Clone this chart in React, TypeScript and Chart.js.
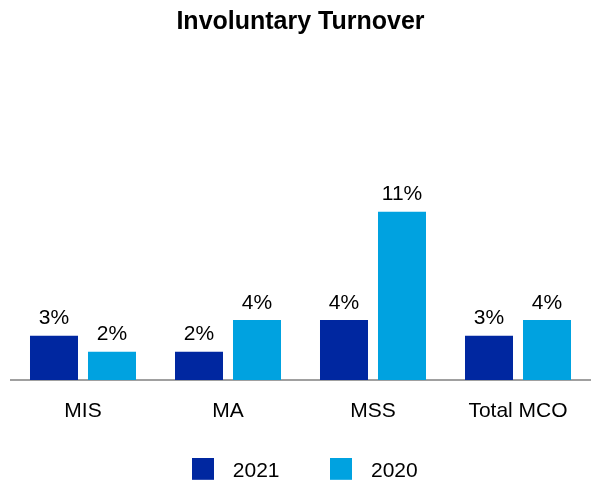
import { useEffect, useRef } from "react";
import { Chart, registerables } from "chart.js";

Chart.register(...registerables);

const categories = ["MIS", "MA", "MSS", "Total MCO"];
const seriesNames = ["2021", "2020"];
const values2021 = [2.95, 1.89, 4.0, 2.95];
const values2020 = [1.89, 4.0, 11.22, 4.0];
const titleText = "Involuntary Turnover";

const FAMILY = "'Liberation Sans', Arial, Helvetica, sans-serif";
const colors = ["#0027A0", "#00A2E0"];

function makeSwatch(color: string): HTMLCanvasElement {
  const c = document.createElement("canvas");
  c.width = 22;
  c.height = 26;
  const g = c.getContext("2d");
  if (g) {
    g.fillStyle = color;
    g.fillRect(0, 0, 22, 22);
  }
  return c;
}

const dataLabelPlugin = {
  id: "dataLabels",
  afterDatasetsDraw(chart: any) {
    const ctx = chart.ctx;
    ctx.save();
    ctx.font = `21px ${FAMILY}`;
    ctx.fillStyle = "#000";
    ctx.textAlign = "center";
    ctx.textBaseline = "alphabetic";
    chart.data.datasets.forEach((ds: any, di: number) => {
      const meta = chart.getDatasetMeta(di);
      if (meta.hidden) return;
      meta.data.forEach((bar: any, i: number) => {
        const v = ds.data[i] as number;
        ctx.fillText(`${Math.round(v)}%`, bar.x, bar.y - 11.5);
      });
    });
    ctx.restore();
  },
};

export default function App() {
  const ref = useRef<HTMLCanvasElement | null>(null);

  useEffect(() => {
    if (!ref.current) return;
    const swatches = colors.map(makeSwatch);
    const chart = new Chart(ref.current, {
      type: "bar",
      data: {
        labels: categories,
        datasets: [
          {
            label: seriesNames[0],
            data: values2021,
            backgroundColor: colors[0],
            categoryPercentage: 0.8,
            barPercentage: 0.8276,
          },
          {
            label: seriesNames[1],
            data: values2020,
            backgroundColor: colors[1],
            categoryPercentage: 0.8,
            barPercentage: 0.8276,
          },
        ],
      },
      options: {
        responsive: false,
        animation: false,
        events: [],
        layout: { padding: { left: 10.5, right: 9.5, top: 0, bottom: 8.7 } },
        scales: {
          x: {
            grid: { display: false, drawTicks: false },
            border: { display: true, color: "#A0A0A0", width: 2 },
            ticks: {
              color: "#000",
              font: { size: 21, family: FAMILY },
              padding: 18.2,
              maxRotation: 0,
              autoSkip: false,
            },
            afterFit: (scale: any) => {
              scale.height = 38.3;
            },
          },
          y: { display: false, min: 0, max: 21.6 },
        },
        plugins: {
          title: {
            display: true,
            text: titleText,
            color: "#000",
            font: { size: 25, weight: "bold", family: FAMILY },
            padding: { top: 6.9, bottom: 19.1 },
          },
          legend: {
            display: true,
            position: "bottom",
            labels: {
              color: "#000",
              font: { size: 21, family: FAMILY },
              usePointStyle: true,
              pointStyleWidth: 39,
              padding: 42,
              generateLabels: (c: any) =>
                Chart.defaults.plugins.legend.labels
                  .generateLabels(c)
                  .map((item: any) => ({
                    ...item,
                    pointStyle: swatches[item.datasetIndex],
                  })),
            },
          },
          tooltip: { enabled: false },
        },
      } as any,
      plugins: [dataLabelPlugin],
    });
    return () => chart.destroy();
  }, []);

  return (
    <div style={{ position: "fixed", left: 0, top: 0, width: 600, height: 500, background: "#fff" }}>
      <canvas ref={ref} width={600} height={500} />
    </div>
  );
}
